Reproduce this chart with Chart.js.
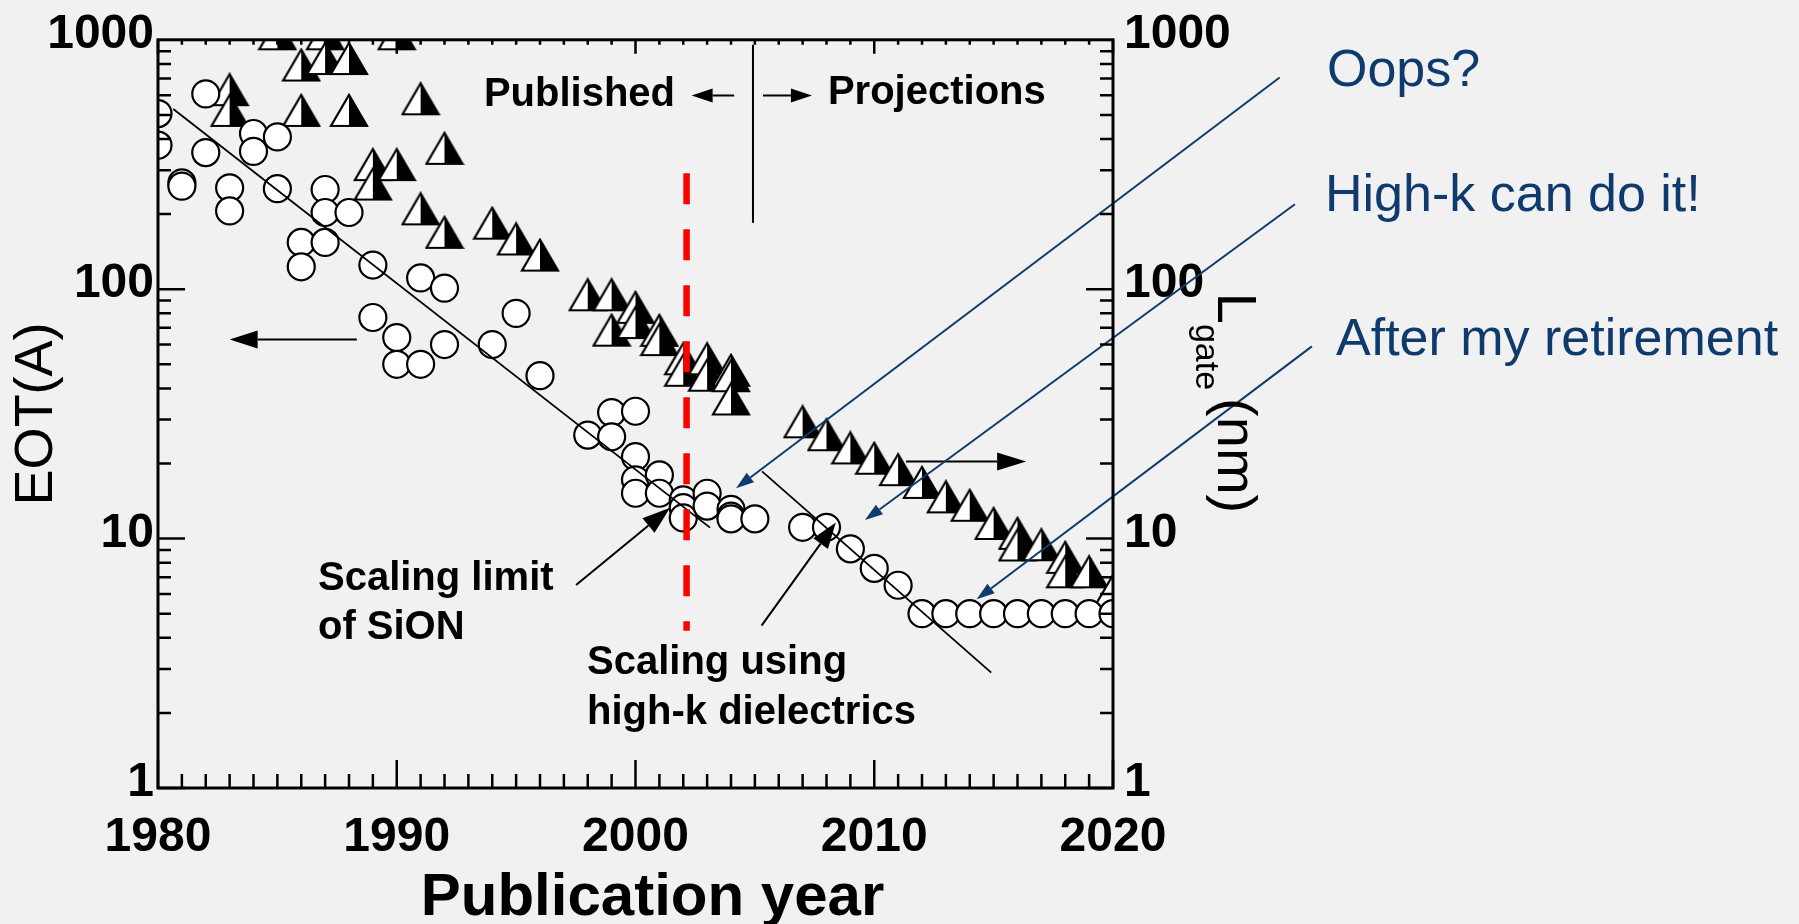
<!DOCTYPE html>
<html>
<head>
<meta charset="utf-8">
<script src="https://cdn.jsdelivr.net/npm/chart.js@4.4.1/dist/chart.umd.min.js"></script>
<style>
  html, body { margin: 0; padding: 0; background: #f1f1f1; }
  #wrap { width: 1799px; height: 924px; }
</style>
</head>
<body>
<div id="wrap"><canvas id="eotChart"></canvas></div>
<script>
// EOT (circles, left axis)
const eotYears = [1980, 1980, 1981, 1981, 1982, 1982, 1983, 1983, 1984, 1984,
  1985, 1985, 1986, 1986, 1987, 1987, 1987, 1988, 1989, 1989,
  1990, 1990, 1991, 1991, 1992, 1992, 1994, 1995, 1996, 1998,
  1999, 1999, 2000, 2000, 2000, 2000, 2001, 2001, 2002, 2002,
  2002, 2003, 2003, 2004, 2004, 2004, 2005, 2007, 2008, 2009,
  2010, 2011, 2012, 2013, 2014, 2015, 2016, 2017, 2018, 2019, 2020];
const eotValues = [506, 378, 267, 259, 607, 353, 255, 206, 421, 357,
  408, 253, 154, 123, 251, 203, 154, 203, 125, 77,
  64, 50, 111, 50, 101, 60, 60, 80, 45, 26,
  32, 25.6, 32.4, 21.3, 17.2, 15.2, 18.0, 15.2, 14.3, 13.3,
  12.1, 15.2, 13.5, 13.1, 12.3, 12.0, 12.0, 11.1, 11.1, 9.1,
  7.6, 6.5, 5, 5, 5, 5, 5, 5, 5, 5, 5];

// Lgate (half filled triangles, right axis)
const lgateYears = [1983, 1983, 1985, 1986, 1986, 1987, 1987, 1988, 1988, 1989,
  1989, 1990, 1990, 1991, 1991, 1992, 1992, 1994, 1995, 1996,
  1998, 1999, 1999, 2000, 2000, 2001, 2001, 2002, 2002, 2003,
  2003, 2004, 2004, 2004, 2007, 2008, 2009, 2010, 2011, 2012,
  2013, 2014, 2015, 2016, 2016, 2017, 2018, 2018, 2019, 2020];
const lgateValues = [631, 521, 1057, 792, 521, 1057, 841, 841, 521, 316,
  264, 1057, 316, 580, 210, 367, 169, 184, 159, 137,
  95, 95, 68.5, 84.6, 73.5, 68.4, 62.8, 52.6, 47.3, 52.6,
  45.2, 47.3, 45, 36.3, 29.4, 26.1, 23.1, 21.0, 18.9, 16.8,
  14.7, 13.6, 11.5, 10.5, 9.43, 9.45, 8.41, 7.36, 7.36, 6.2];

// trend lines
const fit1Years = [1980.64, 2003.12];
const fit1Values = [528, 11.07];
const fit2Years = [2005.3, 2014.9];
const fit2Values = [18.6, 2.9];

// tick labels
const yearTicks = [1980, 1990, 2000, 2010, 2020];
const decadeTicks = [1, 10, 100, 1000];

const FONT = "'Liberation Sans', Arial, sans-serif";
const NAVY = '#0f3a6e';

// half white / half black triangle marker
function makeTriangle() {
  const c = document.createElement('canvas');
  c.width = 40; c.height = 35;
  const g = c.getContext('2d');
  g.fillStyle = '#fff';
  g.beginPath(); g.moveTo(20, 2); g.lineTo(2, 33); g.lineTo(20, 33); g.closePath(); g.fill();
  g.fillStyle = '#000';
  g.beginPath(); g.moveTo(20, 2); g.lineTo(20, 33); g.lineTo(38, 33); g.closePath(); g.fill();
  g.strokeStyle = '#000'; g.lineWidth = 2.2;
  g.beginPath(); g.moveTo(20, 2); g.lineTo(2, 33); g.lineTo(38, 33); g.closePath(); g.stroke();
  return c;
}

function arrow(ctx, x1, y1, x2, y2, len, wid, color, lw) {
  const a = Math.atan2(y2 - y1, x2 - x1);
  const bx = x2 - len * Math.cos(a), by = y2 - len * Math.sin(a);
  ctx.strokeStyle = color; ctx.fillStyle = color; ctx.lineWidth = lw;
  ctx.beginPath(); ctx.moveTo(x1, y1); ctx.lineTo(bx, by); ctx.stroke();
  ctx.beginPath();
  ctx.moveTo(x2, y2);
  ctx.lineTo(bx + wid / 2 * Math.sin(a), by - wid / 2 * Math.cos(a));
  ctx.lineTo(bx - wid / 2 * Math.sin(a), by + wid / 2 * Math.cos(a));
  ctx.closePath(); ctx.fill();
}

// annotation positions in data units (year, value on log axis)
const blackArrows = [
  { from: [1988.33, 62.8], to: [1983.0, 62.8], len: 28, wid: 18 },
  { from: [2011.33, 20.4], to: [2016.36, 20.4], len: 29, wid: 18 },
  { from: [2004.13, 598], to: [2002.35, 598], len: 21, wid: 14 },
  { from: [2005.34, 598], to: [2007.39, 598], len: 21, wid: 14 },
  { from: [1997.51, 6.51], to: [2001.45, 13.3], len: 28, wid: 19 },
  { from: [2005.28, 4.48], to: [2008.39, 11.6], len: 26, wid: 18 }
];
const blueArrows = [
  { from: [2026.98, 706], to: [2004.21, 15.9] },
  { from: [2027.62, 219], to: [2009.61, 11.86] },
  { from: [2028.33, 59.0], to: [2014.29, 5.71] }
];
const plotTexts = [
  { text: 'Published', at: [1993.65, 542] },
  { text: 'Projections', at: [2008.06, 552] },
  { text: 'Scaling limit', at: [1986.70, 6.22] },
  { text: 'of SiON', at: [1986.70, 3.94] },
  { text: 'Scaling using', at: [1997.97, 2.86] },
  { text: 'high-k dielectrics', at: [1997.97, 1.81] }
];
const blueTexts = [
  { text: 'Oops?', x: 1327, y: 86 },
  { text: 'High-k can do it!', x: 1325, y: 211 },
  { text: 'After my retirement', x: 1336, y: 355 }
];

const backgroundPlugin = {
  id: 'bg',
  beforeDraw(chart) {
    const ctx = chart.ctx;
    ctx.save();
    ctx.fillStyle = '#f1f1f1';
    ctx.fillRect(0, 0, chart.width, chart.height);
    ctx.restore();
  }
};

const notesPlugin = {
  id: 'notes',
  afterDatasetsDraw(chart) {
    const ctx = chart.ctx;
    const xs = chart.scales.x, ys = chart.scales.y;
    const px = v => xs.getPixelForValue(v);
    const py = v => ys.getPixelForValue(v);
    ctx.save();

    // red dashed line: published / high-k boundary
    ctx.strokeStyle = '#ff0000';
    ctx.lineWidth = 6.5;
    ctx.setLineDash([31, 25]);
    ctx.beginPath();
    ctx.moveTo(px(2002.14), py(292));
    ctx.lineTo(px(2002.14), py(4.27));
    ctx.stroke();
    ctx.setLineDash([]);

    // published / projections divider
    ctx.strokeStyle = '#000';
    ctx.lineWidth = 2;
    ctx.beginPath();
    ctx.moveTo(px(2004.92), py(955));
    ctx.lineTo(px(2004.92), py(184.5));
    ctx.stroke();

    blackArrows.forEach(a => {
      arrow(ctx, px(a.from[0]), py(a.from[1]), px(a.to[0]), py(a.to[1]), a.len, a.wid, '#000', 2);
    });
    blueArrows.forEach(a => {
      arrow(ctx, px(a.from[0]), py(a.from[1]), px(a.to[0]), py(a.to[1]), 18, 12, NAVY, 2);
    });

    ctx.fillStyle = '#000';
    ctx.textAlign = 'left';
    ctx.textBaseline = 'alphabetic';
    ctx.font = 'bold 40px ' + FONT;
    plotTexts.forEach(t => ctx.fillText(t.text, px(t.at[0]), py(t.at[1])));

    ctx.fillStyle = NAVY;
    ctx.font = '52px ' + FONT;
    blueTexts.forEach(t => ctx.fillText(t.text, t.x, t.y));
    ctx.restore();
  },
  afterDraw(chart) {
    const ctx = chart.ctx;
    const ca = chart.chartArea;
    const xs = chart.scales.x, ys = chart.scales.y;
    ctx.save();
    ctx.strokeStyle = '#000';

    // ticks pointing inward
    ctx.lineWidth = 2.5;
    ctx.beginPath();
    for (let yr = 1980; yr <= 2020; yr++) {
      const x = xs.getPixelForValue(yr);
      const major = yr % 10 === 0;
      ctx.moveTo(x, ca.bottom); ctx.lineTo(x, ca.bottom - (major ? 28 : 14));
      ctx.moveTo(x, ca.top); ctx.lineTo(x, ca.top + (major ? 14 : 5));
    }
    [1, 10, 100].forEach(d => {
      for (let k = 1; k <= 9; k++) {
        const y = ys.getPixelForValue(d * k);
        const l = k === 1 ? 27 : 13;
        ctx.moveTo(ca.left, y); ctx.lineTo(ca.left + l, y);
        ctx.moveTo(ca.right, y); ctx.lineTo(ca.right - l, y);
      }
    });
    ctx.stroke();

    // frame
    ctx.lineWidth = 3;
    ctx.strokeRect(ca.left, ca.top, ca.right - ca.left, ca.bottom - ca.top);

    // x axis title
    ctx.fillStyle = '#000';
    ctx.textAlign = 'center';
    ctx.textBaseline = 'alphabetic';
    ctx.font = 'bold 60px ' + FONT;
    ctx.fillText('Publication year', (ca.left + ca.right) / 2 + 17, 915);

    // right axis title  L_gate (nm)
    ctx.translate(ca.right + 105, ca.top + 253);
    ctx.rotate(Math.PI / 2);
    ctx.textAlign = 'left';
    ctx.font = '56px ' + FONT;
    ctx.fillText('L', 0, 0);
    const wL = ctx.measureText('L').width;
    ctx.font = '34px ' + FONT;
    ctx.fillText('gate', wL, 22);
    const wg = ctx.measureText('gate').width;
    ctx.font = '56px ' + FONT;
    ctx.fillText('(nm)', wL + wg + 8, 0);
    ctx.restore();
  }
};

const tickFont = { family: FONT, size: 48, weight: 'bold' };
const triangle = makeTriangle();

const ctx = document.getElementById('eotChart').getContext('2d');
new Chart(ctx, {
  type: 'scatter',
  data: {
    datasets: [
      {
        label: 'fit1',
        data: fit1Years.map((x, i) => ({ x: x, y: fit1Values[i] })),
        showLine: true, pointRadius: 0, borderColor: '#000', borderWidth: 1.8,
        yAxisID: 'y', order: 0, clip: 0
      },
      {
        label: 'fit2',
        data: fit2Years.map((x, i) => ({ x: x, y: fit2Values[i] })),
        showLine: true, pointRadius: 0, borderColor: '#000', borderWidth: 1.8,
        yAxisID: 'y', order: 0, clip: 0
      },
      {
        label: 'EOT',
        data: eotYears.map((x, i) => ({ x: x, y: eotValues[i] })),
        pointStyle: 'circle', pointRadius: 13.5, borderWidth: 2.2,
        borderColor: '#000', backgroundColor: '#fff',
        yAxisID: 'y', order: 1, clip: 0
      },
      {
        label: 'Lgate',
        data: lgateYears.map((x, i) => ({ x: x, y: lgateValues[i] })),
        pointStyle: triangle, pointRadius: 18,
        yAxisID: 'y2', order: 2, clip: 0
      }
    ]
  },
  options: {
    responsive: true,
    maintainAspectRatio: false,
    animation: false,
    events: [],
    layout: { padding: { left: 0, top: 32, right: 556, bottom: 0 } },
    plugins: {
      legend: { display: false },
      tooltip: { enabled: false }
    },
    scales: {
      x: {
        type: 'linear',
        position: 'bottom',
        min: 1980,
        max: 2020,
        grid: { display: false, drawTicks: false },
        border: { display: false },
        afterBuildTicks: s => { s.ticks = yearTicks.map(v => ({ value: v })); },
        afterFit: s => { s.height = 136; },
        ticks: { font: tickFont, color: '#000', padding: 21, maxRotation: 0, autoSkip: false,
          callback: v => String(v) }
      },
      y: {
        type: 'logarithmic',
        position: 'left',
        min: 1,
        max: 1000,
        grid: { display: false, drawTicks: false },
        border: { display: false },
        afterBuildTicks: s => { s.ticks = decadeTicks.map(v => ({ value: v })); },
        afterFit: s => { s.width = 158; },
        ticks: { font: tickFont, color: '#000', padding: 4, labelOffset: -5, autoSkip: false,
          callback: v => String(v) },
        title: { display: true, text: 'EOT(A)', color: '#000', padding: { top: 10, bottom: 0 },
          font: { family: FONT, size: 54, lineHeight: 1 } }
      },
      y2: {
        type: 'logarithmic',
        position: 'right',
        min: 1,
        max: 1000,
        grid: { display: false, drawTicks: false },
        border: { display: false },
        afterBuildTicks: s => { s.ticks = decadeTicks.map(v => ({ value: v })); },
        afterFit: s => { s.width = 130; },
        ticks: { font: tickFont, color: '#000', padding: 11, labelOffset: -5, autoSkip: false,
          callback: v => String(v) }
      }
    }
  },
  plugins: [backgroundPlugin, notesPlugin]
});
</script>
</body>
</html>
